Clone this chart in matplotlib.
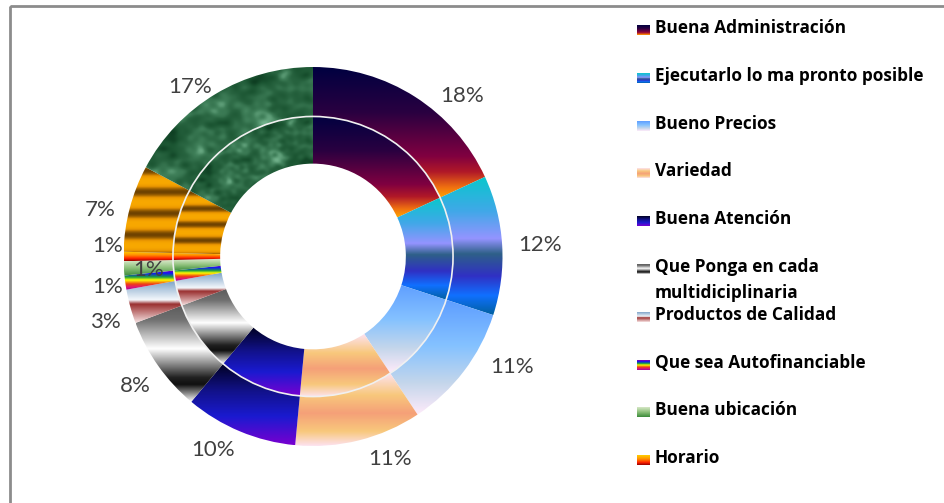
import numpy as np
import matplotlib
matplotlib.use("Agg")
import matplotlib.pyplot as plt
from matplotlib.colors import LinearSegmentedColormap
from matplotlib.patches import Rectangle, Circle

# legend entries as shown in the source (it stops after ten lines)
categories = [
    "Buena Administración",
    "Ejecutarlo lo ma pronto posible",
    "Bueno Precios",
    "Variedad",
    "Buena Atención",
    "Que Ponga en cada\nmultidiciplinaria",
    "Productos de Calidad",
    "Que sea Autofinanciable",
    "Buena ubicación",
    "Horario",
]
# slice shares in %, clockwise from 12 o'clock; the last two have no legend line
shares = [18.1, 11.9, 10.7, 10.8, 9.6, 8.2, 2.9, 1.2, 1.2, 0.8, 7.4, 17.2]

# gradient fills, top -> bottom of each slice
fills = [
    [(0, "#000040"), (0.35, "#2a0040"), (0.68, "#800040"), (0.8, "#b01828"), (0.92, "#f07010"), (1, "#ffa400")],
    [(0, "#08c8cc"), (0.25, "#40a8e8"), (0.45, "#9494ff"), (0.56, "#2e6088"), (0.72, "#3030c4"), (0.86, "#1070ff"), (1, "#0060a0")],
    [(0, "#5e9eff"), (0.4, "#85c2ff"), (0.72, "#c4d6eb"), (1, "#ffebfa")],
    [(0, "#fde2f0"), (0.3, "#f8c87c"), (0.55, "#f5a078"), (0.8, "#f8c87c"), (1, "#fde2f0")],
    [(0, "#000020"), (0.35, "#12128c"), (0.65, "#1a1ad0"), (1, "#7800d0")],
    [(0, "#5c5c5c"), (0.15, "#707070"), (0.45, "#ffffff"), (0.6, "#909090"), (0.75, "#202020"), (0.82, "#101010"), (1, "#ffffff")],
    [(0, "#7fa4c8"), (0.45, "#f4f8fc"), (0.55, "#9a3030"), (1, "#f8e4e4")],
    [(0, "#a000a0"), (0.15, "#1010ff"), (0.35, "#18a040"), (0.5, "#ffff00"), (0.7, "#f04010"), (0.85, "#e01870"), (1, "#a000a0")],
    [(0, "#d8e8c8"), (0.5, "#8cc07a"), (1, "#3a8a3a")],
    [(0, "#ffd000"), (0.4, "#ff9000"), (0.75, "#ff2000"), (1, "#900000")],
    "stripes",
    "marble",
]

# label placement: (angle nudge from slice middle in degrees, radius)
label_place = [(-10.4, 1.155), (-0.4, 1.2), (8.3, 1.2), (6.8, 1.145), (-4.6, 1.15),
               (0.8, 1.16), (2.1, 1.15), (0.4, 1.095), (1.1, 0.873), (-3.0, 1.083),
               (2.4, 1.15), (5.0, 1.103)]

W, H = 945, 503
R_OUT, R_MID, R_IN = 1.0, 0.739, 0.49


def gradient_rgb(stops, n=256):
    cmap = LinearSegmentedColormap.from_list("g", stops)
    return cmap(np.linspace(0, 1, n))[:, None, :3]


def stripes_img(n=256, cycles=4):
    y = np.linspace(0, 1, n)
    v = (0.5 + 0.5 * np.sin(2 * np.pi * cycles * y + 0.6)) ** 1.5
    cmap = LinearSegmentedColormap.from_list("st", ["#f8a800", "#e89400", "#a86800", "#6e4200"])
    return cmap(v)[:, None, :3]


def marble_img(n=200):
    # cloudy texture built from a fixed set of plane waves
    yy, xx = np.mgrid[0:1:n * 1j, 0:1:n * 1j]
    t = np.zeros_like(xx)
    for k in range(1, 40):
        a = k * 2.39996
        f = 3 + 1.6 * k
        t += np.sin(f * (np.cos(a) * xx + np.sin(a) * yy) * 2 * np.pi / 4 + 1.7 * k) / f ** 0.9
    t = (t - t.min()) / (t.max() - t.min())
    cmap = LinearSegmentedColormap.from_list("mb", ["#0e3e22", "#1b5532", "#286440", "#40805a", "#70b08a"])
    return cmap(np.clip((t - 0.05) * 1.2, 0, 1))[..., :3]


def fill_img(fill):
    if fill == "stripes":
        return stripes_img()
    if fill == "marble":
        return marble_img()
    return gradient_rgb(fill)


def paint(ax, wedge, fill):
    ext = wedge.get_path().get_extents()
    im = ax.imshow(fill_img(fill), extent=[ext.x0, ext.x1, ext.y0, ext.y1],
                   origin="upper", aspect="auto", interpolation="bilinear", zorder=2)
    im.set_clip_path(wedge)
    wedge.set_facecolor("none")


fig = plt.figure(figsize=(W / 100, H / 100), dpi=100)
fig.patch.set_facecolor("white")

# doughnut axes, centre at (313, 256.5) px, outer radius 189.5 px
cx, cy, half = 313, 256.5, 200
ax = fig.add_axes([(cx - half) / W, (H - cy - half) / H, 2 * half / W, 2 * half / H])
lim = half / 189.5

outer, _ = ax.pie(shares, radius=R_OUT, startangle=90, counterclock=False,
                  wedgeprops=dict(width=R_OUT - R_MID, linewidth=0))
inner, _ = ax.pie(shares, radius=R_MID, startangle=90, counterclock=False,
                  wedgeprops=dict(width=R_MID - R_IN, linewidth=0))
for ring in (outer, inner):
    for w, f in zip(ring, fills):
        paint(ax, w, f)

ax.add_patch(Circle((0, 0), R_MID, fill=False, ec="#f0f0f0", lw=1.2, zorder=3))

# percentage labels
cum = np.cumsum([0] + shares[:-1])
for v, c0, (nudge, dist) in zip(shares, cum, label_place):
    ang = np.deg2rad(90 - 360 * (c0 + v / 2) / 100 + nudge)
    ax.text(dist * np.cos(ang), dist * np.sin(ang), f"{round(v)}%",
            ha="center", va="center", fontsize=16, family="Lato", color="#404040", zorder=4)

ax.set_xlim(-lim, lim)
ax.set_ylim(-lim, lim)
ax.set_aspect("equal")
ax.axis("off")

# overlay in pixel coordinates: frame and legend
lax = fig.add_axes([0, 0, 1, 1], zorder=5)
lax.patch.set_alpha(0)
lax.add_patch(Rectangle((10, 6), 960, 520, fill=False, ec="#8c8c8c", lw=2, clip_on=False))

row0, pitch = 28, 47.8
for i, (name, fill) in enumerate(zip(categories, fills)):
    y = row0 + i * pitch
    lax.imshow(gradient_rgb(fill), extent=[637, 650, y + 7, y - 3], origin="upper",
               aspect="auto", interpolation="bilinear")
    for k, line in enumerate(name.split("\n")):
        lax.text(655, y + k * 26, line, ha="left", va="center", fontsize=12.4,
                 family="Open Sans", fontweight="bold", color="black")

lax.set_xlim(0, W)
lax.set_ylim(H, 0)
lax.axis("off")

fig.savefig("out.png", dpi=100)
